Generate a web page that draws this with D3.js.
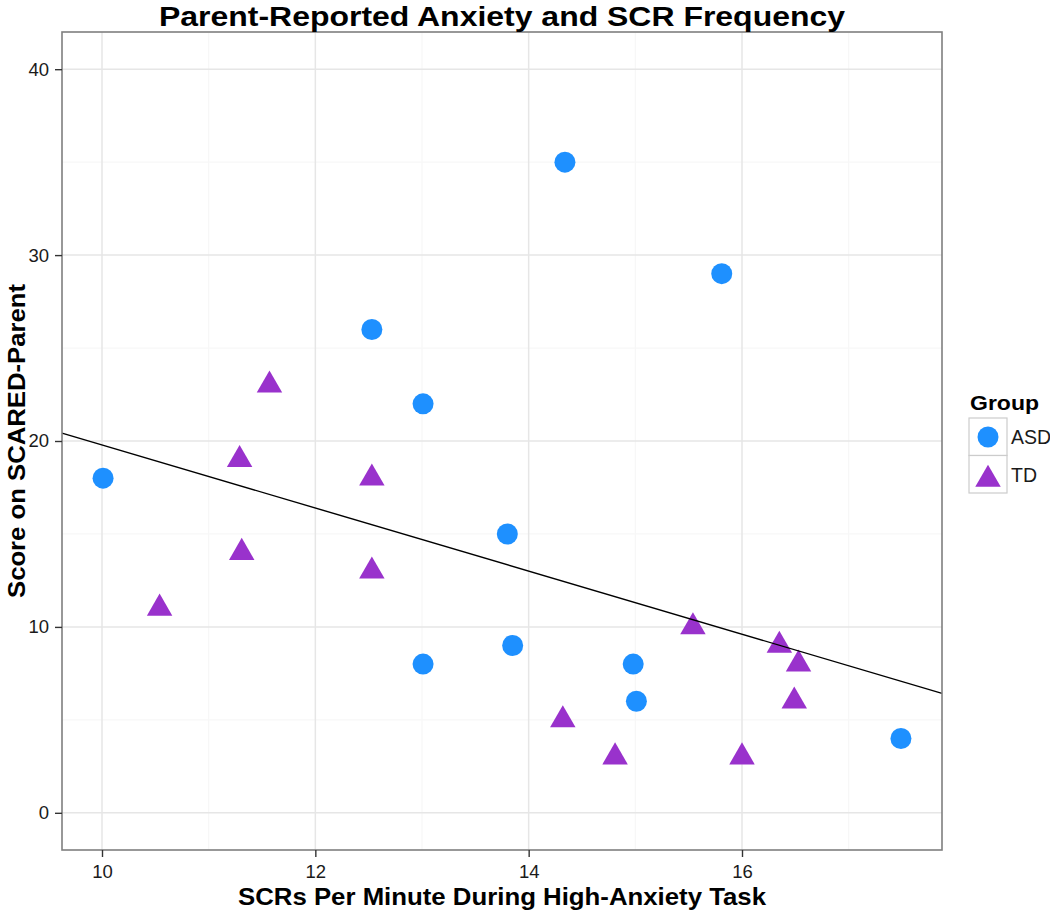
<!DOCTYPE html>
<html>
<head>
<meta charset="utf-8">
<script src="https://cdn.jsdelivr.net/npm/d3@7"></script>
<style>
  body { margin: 0; background: #fff; }
  text { font-family: "Liberation Sans", Arial, sans-serif; }
</style>
</head>
<body>
<svg id="chart" width="1050" height="913"></svg>
<script>
// ASD group
var asdX = [10.01, 12.53, 13.01, 14.34, 15.81, 13.80, 13.85, 13.01, 14.98, 15.01, 17.49];
var asdY = [18, 26, 22, 35, 29, 15, 9, 8, 8, 6, 4];
// TD group
var tdX = [10.54, 11.29, 11.31, 11.57, 12.53, 12.53, 14.32, 14.81, 15.54, 16.00, 16.35, 16.53, 16.49];
var tdY = [11, 19, 14, 23, 18, 13, 5, 3, 10, 3, 9, 8, 6];
// fitted line
var fitIntercept = 36.76, fitSlope = -1.697;

var xTicks = [10, 12, 14, 16], xMinor = [11, 13, 15, 17];
var yTicks = [0, 10, 20, 30, 40], yMinor = [5, 15, 25, 35];
var groups = ["ASD", "TD"];
var colors = {ASD: "#1E90FF", TD: "#9932CC"};

var svg = d3.select("#chart");
var margin = {top: 32, right: 108, bottom: 63, left: 62};
var width = 1050 - margin.left - margin.right,
    height = 913 - margin.top - margin.bottom;

var x = d3.scaleLinear().domain([9.625, 17.875]).range([0, width]);
var y = d3.scaleLinear().domain([-2, 42]).range([height, 0]);

var g = svg.append("g").attr("transform", "translate(" + margin.left + "," + margin.top + ")");

// minor grid
g.selectAll(".vminor").data(xMinor).enter().append("line")
    .attr("x1", d => x(d)).attr("x2", d => x(d)).attr("y1", 0).attr("y2", height)
    .attr("stroke", "#F7F7F7").attr("stroke-width", 1.2);
g.selectAll(".hminor").data(yMinor).enter().append("line")
    .attr("y1", d => y(d)).attr("y2", d => y(d)).attr("x1", 0).attr("x2", width)
    .attr("stroke", "#F7F7F7").attr("stroke-width", 1.2);
// major grid
g.selectAll(".vmajor").data(xTicks).enter().append("line")
    .attr("x1", d => x(d)).attr("x2", d => x(d)).attr("y1", 0).attr("y2", height)
    .attr("stroke", "#E6E6E6").attr("stroke-width", 1.5);
g.selectAll(".hmajor").data(yTicks).enter().append("line")
    .attr("y1", d => y(d)).attr("y2", d => y(d)).attr("x1", 0).attr("x2", width)
    .attr("stroke", "#E6E6E6").attr("stroke-width", 1.5);

// points
var tri = function (r) {
    var xc = r * Math.sqrt(3) / 2, yc = r / 2;
    return "M0," + (-r) + "L" + xc + "," + yc + "L" + (-xc) + "," + yc + "Z";
};

g.selectAll(".asd").data(asdX).enter().append("circle")
    .attr("cx", d => x(d)).attr("cy", (d, i) => y(asdY[i])).attr("r", 10.5)
    .attr("fill", colors.ASD);

g.selectAll(".td").data(tdX).enter().append("path")
    .attr("d", tri(14.7))
    .attr("transform", (d, i) => "translate(" + x(d) + "," + y(tdY[i]) + ")")
    .attr("fill", colors.TD);

// regression line
var x0 = x.domain()[0], x1 = x.domain()[1];
g.append("line")
    .attr("x1", x(x0)).attr("y1", y(fitIntercept + fitSlope * x0))
    .attr("x2", x(x1)).attr("y2", y(fitIntercept + fitSlope * x1))
    .attr("stroke", "#000").attr("stroke-width", 1.4);

// panel border
g.append("rect").attr("width", width).attr("height", height)
    .attr("fill", "none").attr("stroke", "#7F7F7F").attr("stroke-width", 1.6);

// axes
var xAxis = g.append("g").attr("transform", "translate(0," + height + ")")
    .call(d3.axisBottom(x).tickValues(xTicks).tickSize(7).tickPadding(8));
var yAxis = g.append("g")
    .call(d3.axisLeft(y).tickValues(yTicks).tickSize(7).tickPadding(6));
[xAxis, yAxis].forEach(function (a) {
    a.select(".domain").remove();
    a.selectAll("line").attr("stroke", "#333").attr("stroke-width", 1.4);
    a.selectAll("text").attr("font-size", 18.5).attr("fill", "#1a1a1a")
        .attr("font-family", "Liberation Sans, Arial, sans-serif");
});

// titles (narrow-looking glyphs in the source, so squeeze to measured widths)
svg.append("text").attr("x", margin.left + width / 2).attr("y", 26)
    .attr("text-anchor", "middle").attr("font-size", 27.5).attr("font-weight", "bold")
    .attr("textLength", 686).attr("lengthAdjust", "spacingAndGlyphs")
    .text("Parent-Reported Anxiety and SCR Frequency");

svg.append("text").attr("x", margin.left + width / 2).attr("y", 905)
    .attr("text-anchor", "middle").attr("font-size", 24).attr("font-weight", "bold")
    .attr("textLength", 528).attr("lengthAdjust", "spacingAndGlyphs")
    .text("SCRs Per Minute During High-Anxiety Task");

svg.append("text")
    .attr("transform", "translate(25," + (margin.top + height / 2) + ") rotate(-90)")
    .attr("text-anchor", "middle").attr("font-size", 24).attr("font-weight", "bold")
    .attr("textLength", 314).attr("lengthAdjust", "spacingAndGlyphs")
    .text("Score on SCARED-Parent");

// legend
var legend = svg.append("g").attr("transform", "translate(969,380)");
legend.append("text").attr("x", 1).attr("y", 30)
    .attr("font-size", 21).attr("font-weight", "bold")
    .attr("textLength", 69).attr("lengthAdjust", "spacingAndGlyphs").text("Group");

var keys = legend.selectAll(".key").data(groups).enter().append("g")
    .attr("transform", (d, i) => "translate(0," + (38 + i * 37.5) + ")");
keys.append("rect").attr("width", 38).attr("height", 37.5)
    .attr("fill", "#fff").attr("stroke", "#CCCCCC").attr("stroke-width", 1.2);
keys.filter(d => d == "ASD").append("circle")
    .attr("cx", 19).attr("cy", 19).attr("r", 10.5).attr("fill", colors.ASD);
keys.filter(d => d == "TD").append("path")
    .attr("d", tri(14.7)).attr("transform", "translate(19,24)").attr("fill", colors.TD);
keys.append("text").attr("x", 42).attr("y", 26)
    .attr("font-size", 19.5).attr("fill", "#1a1a1a").text(d => d);
</script>
</body>
</html>
